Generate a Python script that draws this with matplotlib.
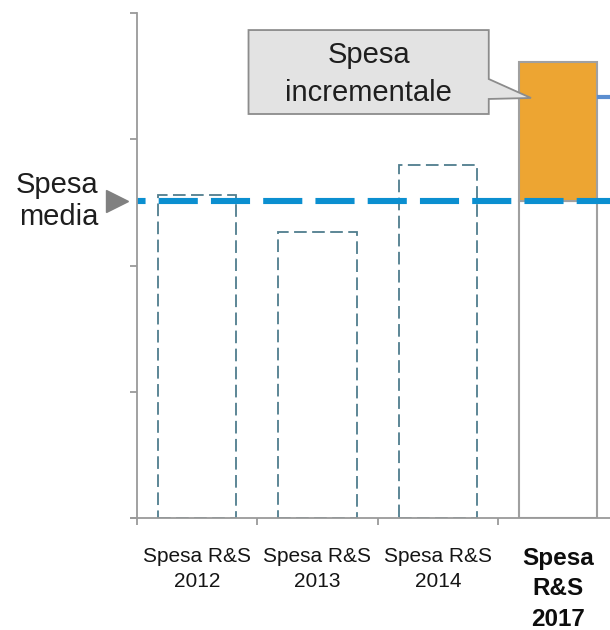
import matplotlib
matplotlib.use("Agg")
import matplotlib.pyplot as plt
from matplotlib.patches import Polygon
import matplotlib.transforms as mtransforms

plt.rcParams['font.family'] = ['Liberation Sans', 'DejaVu Sans']

# ---- data ----
categories = ["Spesa R&S\n2012", "Spesa R&S\n2013", "Spesa R&S\n2014", "Spesa\nR&S\n2017"]
past_values = [2.56, 2.265, 2.80]        # 2012, 2013, 2014
spesa_media = 2.51                        # average spend level
spesa_2017 = 3.61
next_level = 3.335                         # partially visible level at right edge
y_ticks = [0, 1, 2, 3, 4]
boundaries = [0, 1, 2, 3]

fig = plt.figure(figsize=(6.1, 6.3), dpi=100)
ax = fig.add_axes([137/610, 112/630, 473/610, 505/630])
ax.set_xlim(0, 473/120.3)
ax.set_ylim(0, 4)

centers = [i + 0.5 for i in range(len(categories))]
bw = 0.65
axis_gray = '#9a9a9a'

# past years: dashed outlines
ax.bar(centers[:3], past_values, width=bw, fill=False, edgecolor='#4f7d8d',
       linewidth=1.3, linestyle=(0, (7, 3)), zorder=2)

# 2017 bar: base (white) + incremental orange
ax.bar(centers[3], spesa_media, width=bw, facecolor='white', edgecolor='#a0a0a0',
       linewidth=1.5, zorder=2)
ax.bar(centers[3], spesa_2017 - spesa_media, bottom=spesa_media, width=bw,
       facecolor='#EDA532', edgecolor='#a0a0a0', linewidth=1.5, zorder=2)

# level line at right edge
ax.plot([centers[3] + bw/2, ax.get_xlim()[1]], [next_level, next_level],
        color='#5b8ed0', linewidth=3, solid_capstyle='butt', zorder=3, clip_on=False)

# mean line
ax.plot([0, ax.get_xlim()[1]], [spesa_media, spesa_media], color='#0b8fd0',
        linewidth=4.4, linestyle=(5, (6.4, 2.15)), dash_capstyle='butt', zorder=4)

# axes styling
for s in ['top', 'right']:
    ax.spines[s].set_visible(False)
for s in ['left', 'bottom']:
    ax.spines[s].set_color(axis_gray)
    ax.spines[s].set_linewidth(1.3)
    ax.spines[s].set_zorder(5)
ax.spines['bottom'].set_bounds(-6/120.3, ax.get_xlim()[1])

ax.set_yticks(y_ticks)
ax.set_yticklabels([])
ax.tick_params(axis='y', direction='out', length=5, width=1.3, color=axis_gray)
ax.set_xticks(boundaries)
ax.set_xticklabels([])
ax.tick_params(axis='x', which='major', direction='out', length=5, width=1.3, color=axis_gray)
ax.set_xticks(centers, categories, minor=True)
ax.tick_params(axis='x', which='minor', length=0, pad=21, labelsize=15, labelcolor='#151515')
labs = ax.get_xticklabels(minor=True)
for lab in labs[:3]:
    lab.set_linespacing(1.4)
labs[3].set_fontweight('bold')
labs[3].set_fontsize(17.5)
labs[3].set_linespacing(1.4)
labs[3].set_color('#0d0d0d')

# "Spesa media" label with triangle marker
trans = mtransforms.blended_transform_factory(ax.transAxes, ax.transData)
ax.plot([-20/473], [spesa_media], marker='>', markersize=16, color='#808080',
        transform=trans, clip_on=False, zorder=6)
ax.text(-39/473, spesa_media, "Spesa\nmedia", transform=trans, ha='right', va='center',
        fontsize=21, color='#1e1e1e', linespacing=1.15, clip_on=False)

# callout box "Spesa incrementale"
x0, x1 = 0.927, 2.924
y0, y1 = 3.20, 3.865
tip = (3.275, 3.327)
verts = [(x0, y0), (x1, y0), (x1, 3.319), tip, (x1, 3.477), (x1, y1), (x0, y1)]
ax.add_patch(Polygon(verts, closed=True, facecolor='#e3e3e3', edgecolor='#8c8c8c',
                     linewidth=1.3, zorder=7, clip_on=False))
ax.text((x0 + x1) / 2, 3.515, "Spesa\nincrementale", ha='center', va='center',
        fontsize=21, color='#1e1e1e', linespacing=1.45, zorder=8)

fig.savefig("out.png", dpi=100)
